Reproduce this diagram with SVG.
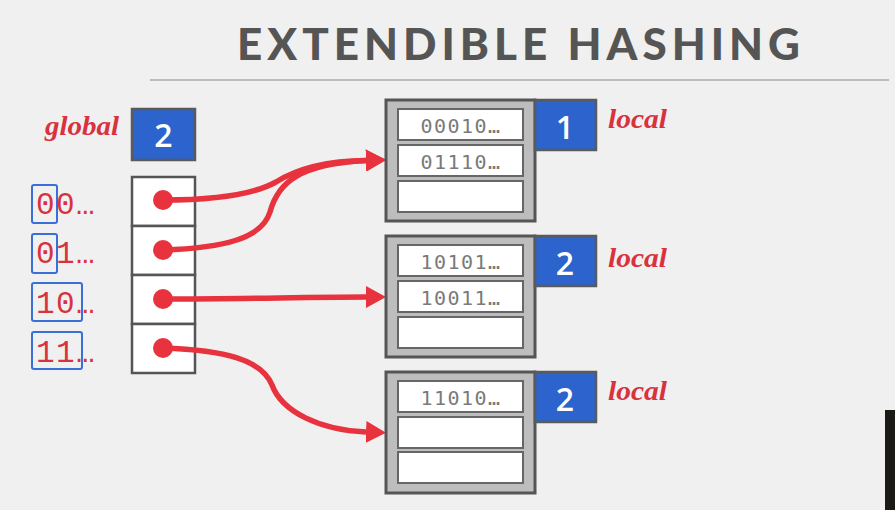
<svg xmlns="http://www.w3.org/2000/svg" width="895" height="510" viewBox="0 0 895 510">
<defs>
<style>
.title{font-family:Lato,"Open Sans",sans-serif;font-weight:900;font-size:44px;fill:#555}
.lbl{font-family:"Liberation Serif",serif;font-style:italic;font-weight:700;font-size:28px;fill:#d9323f}
.num{font-family:"Open Sans","Liberation Sans",sans-serif;font-weight:600;font-size:32px;fill:#fff;text-anchor:middle}
.depth{fill:#2c63cc;stroke:#5a5a5a;stroke-width:2.5}
.dir{fill:#fff;stroke:#555;stroke-width:2.5}
.bucket{fill:#bdbdbd;stroke:#555;stroke-width:3}
.slot{fill:#fff;stroke:#666;stroke-width:2}
.key{font-family:"DejaVu Sans Mono",monospace;font-size:20px;fill:#7a7a7a;letter-spacing:1.5px;text-anchor:middle}
.hk{font-family:"Liberation Mono","DejaVu Sans Mono",monospace;font-size:31px;fill:#d9323f;letter-spacing:1.4px}
.hbox{fill:none;stroke:#3a6fd8;stroke-width:2}
.dot{fill:#e8323d}
.conn{fill:none;stroke:#e8323d;stroke-width:5.5}
</style>
<marker id="ah" viewBox="0 0 20 22" refX="0" refY="11" markerWidth="20" markerHeight="22" markerUnits="userSpaceOnUse" orient="auto">
<path d="M0,0 L20,11 L0,22 Z" fill="#e8323d"/>
</marker>
</defs>
<rect x="0" y="0" width="895" height="510" fill="#f0f0f0"/>
<text class="title" x="237" y="60" textLength="563" lengthAdjust="spacing">EXTENDIBLE HASHING</text>
<line x1="150" y1="80" x2="889" y2="80" stroke="#bcbcbc" stroke-width="2"/>
<rect x="885" y="410" width="10" height="100" fill="#1c1a16"/>

<g id="global">
<text class="lbl" x="45" y="135" textLength="74" lengthAdjust="spacingAndGlyphs">global</text>
<rect class="depth" x="132" y="109" width="63" height="51"/>
<text class="num" x="163.5" y="147">2</text>
</g>

<g id="hashes">
<rect class="hbox" x="32" y="185" width="25" height="38" rx="2"/>
<text class="hk" x="36" y="214">00…</text>
<rect class="hbox" x="32" y="234" width="25" height="39" rx="2"/>
<text class="hk" x="36" y="263">01…</text>
<rect class="hbox" x="32" y="283" width="50" height="38" rx="2"/>
<text class="hk" x="36" y="313">10…</text>
<rect class="hbox" x="32" y="332" width="50" height="37" rx="2"/>
<text class="hk" x="36" y="362">11…</text>
</g>

<g id="directory">
<rect class="dir" x="132" y="177" width="63" height="49"/>
<rect class="dir" x="132" y="226" width="63" height="49"/>
<rect class="dir" x="132" y="275" width="63" height="49"/>
<rect class="dir" x="132" y="324" width="63" height="49"/>
<circle class="dot" cx="163" cy="200" r="10"/>
<circle class="dot" cx="163" cy="250" r="10"/>
<circle class="dot" cx="163" cy="299" r="10"/>
<circle class="dot" cx="163" cy="348" r="10"/>
</g>

<g id="connectors">
<path class="conn" marker-end="url(#ah)" d="M163,200 C225,200 258,192 276,182 C292,172 318,161 366,160.5"/>
<path class="conn" marker-end="url(#ah)" d="M163,250 C225,248 262,238 270,212 C278,182 300,164 366,160.5"/>
<path class="conn" marker-end="url(#ah)" d="M163,299 C250,299 300,297 366,297"/>
<path class="conn" marker-end="url(#ah)" d="M163,348 C225,350 262,360 272,385 C282,412 320,430 366,432"/>
</g>

<g id="bucket1">
<rect class="bucket" x="386" y="100" width="149" height="121"/>
<rect class="slot" x="398" y="109" width="125" height="31"/>
<rect class="slot" x="398" y="145" width="125" height="31"/>
<rect class="slot" x="398" y="181" width="125" height="31"/>
<text class="key" x="461" y="133">00010…</text>
<text class="key" x="461" y="169">01110…</text>
<rect class="depth" x="535" y="100" width="61" height="50"/>
<text class="num" x="565" y="139">1</text>
<text class="lbl" x="608" y="128" textLength="59" lengthAdjust="spacingAndGlyphs">local</text>
</g>

<g id="bucket2">
<rect class="bucket" x="386" y="236" width="149" height="121"/>
<rect class="slot" x="398" y="245" width="125" height="31"/>
<rect class="slot" x="398" y="281" width="125" height="31"/>
<rect class="slot" x="398" y="317" width="125" height="31"/>
<text class="key" x="461" y="269">10101…</text>
<text class="key" x="461" y="305">10011…</text>
<rect class="depth" x="535" y="236" width="61" height="50"/>
<text class="num" x="565" y="275">2</text>
<text class="lbl" x="608" y="267" textLength="59" lengthAdjust="spacingAndGlyphs">local</text>
</g>

<g id="bucket3">
<rect class="bucket" x="386" y="372" width="149" height="121"/>
<rect class="slot" x="398" y="381" width="125" height="31"/>
<rect class="slot" x="398" y="417" width="125" height="31"/>
<rect class="slot" x="398" y="452" width="125" height="31"/>
<text class="key" x="461" y="405">11010…</text>
<rect class="depth" x="535" y="372" width="61" height="50"/>
<text class="num" x="565" y="411">2</text>
<text class="lbl" x="608" y="400" textLength="59" lengthAdjust="spacingAndGlyphs">local</text>
</g>
</svg>
